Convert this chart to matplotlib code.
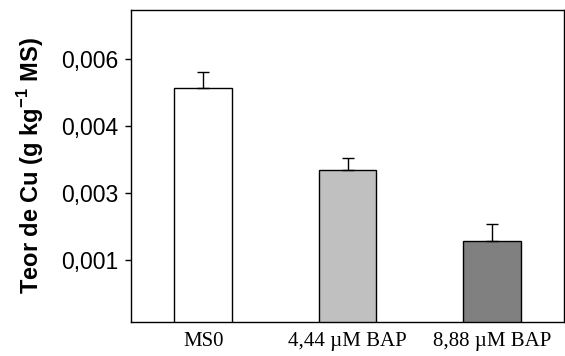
import numpy as np
import matplotlib.pyplot as plt

categorias = ['MS0', '4,44 µM BAP', '8,88 µM BAP']
teor_cu = [0.00534, 0.00352, 0.00191]
erro = [0.00038, 0.00026, 0.00039]
cores = ['white', '#c0c0c0', '#808080']
yticks = [0.0015, 0.003, 0.0045, 0.006]
ytick_labels = ['0,001', '0,003', '0,004', '0,006']

plt.rcParams['mathtext.fontset'] = 'custom'
plt.rcParams['mathtext.bf'] = 'Liberation Sans:bold'
plt.rcParams['mathtext.rm'] = 'Liberation Sans'

fig = plt.figure(figsize=(5.65, 3.56), dpi=100)
ax = fig.add_axes([131 / 565, 34 / 356, 433 / 565, 312 / 356])

x = np.arange(len(categorias))
ax.bar(x, teor_cu, width=0.4, color=cores, edgecolor='black', linewidth=1.0)
ax.errorbar(x, teor_cu, yerr=[np.zeros(len(erro)), erro], fmt='none',
            ecolor='black', elinewidth=1.0, capsize=4, capthick=1.0)

ax.set_xlim(-0.5, 2.5)
ax.set_ylim(0.0001, 0.0071)
ax.set_yticks(yticks)
ax.set_yticklabels(ytick_labels, fontname='Liberation Sans', fontsize=16.5)
ax.set_xticks(x)
ax.set_xticklabels(categorias, fontname='Liberation Serif', fontsize=15)
ax.tick_params(axis='x', length=0, pad=7)
ax.tick_params(axis='y', length=4, width=1, direction='out', pad=5)
for s in ax.spines.values():
    s.set_linewidth(1.0)

ax.set_ylabel(r'Teor de Cu (g kg$^{\mathbf{-1}}$ MS)', fontname='Liberation Sans',
              fontsize=17, fontweight='bold', labelpad=11)

fig.savefig('out.png', dpi=100)
